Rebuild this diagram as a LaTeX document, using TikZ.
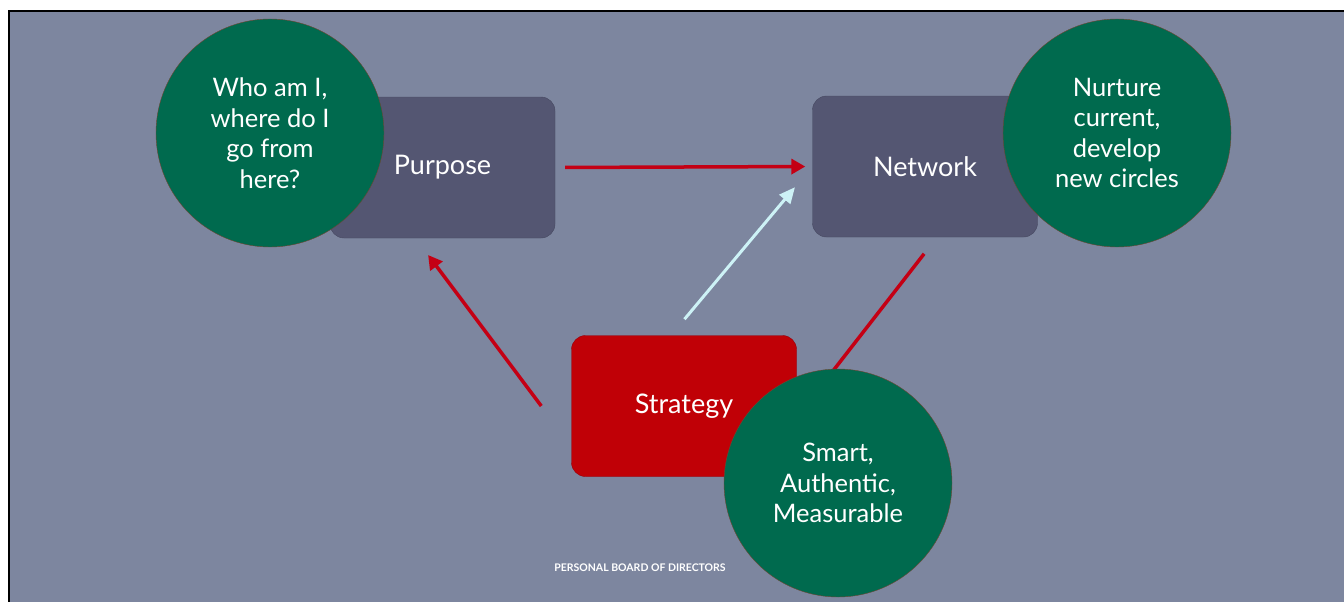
\documentclass[tikz,border=0pt]{standalone}
\usepackage{fontspec}
\setmainfont{Lato}
\usetikzlibrary{arrows.meta, positioning, calc}
\definecolor{slidebg}{RGB}{125,134,159}
\definecolor{boxfill}{RGB}{84,86,114}
\definecolor{boxline}{RGB}{70,72,96}
\definecolor{stratred}{RGB}{192,0,6}
\definecolor{stratline}{RGB}{150,0,10}
\definecolor{bubblegreen}{RGB}{0,106,78}
\definecolor{bubbleline}{RGB}{110,70,50}
\definecolor{arrowred}{RGB}{196,0,20}
\definecolor{arrowcyan}{RGB}{205,242,246}
\tikzstyle{box} = [rectangle, rounded corners=14pt, minimum width=225pt, minimum height=141pt, align=center, draw=boxline, fill=boxfill, text=white, font=\fontsize{27}{30}\selectfont]
\tikzstyle{redbox} = [box, fill=stratred, draw=stratline]
\tikzstyle{bubble} = [circle, minimum size=228pt, inner sep=0pt, align=center, draw=bubbleline, fill=bubblegreen, text=white, font=\fontsize{25.5}{30.5}\selectfont]
\tikzstyle{redarrow} = [line width=3.5pt, draw=arrowred, -{Triangle[length=14pt,width=15pt]}]
\tikzstyle{cyanarrow} = [line width=3pt, draw=arrowcyan, -{Triangle[length=16pt,width=14pt]}]

\begin{document}
\begin{tikzpicture}[x=1pt, y=-1pt]
\useasboundingbox (0,0) rectangle (1344,602);

% Slide background
\fill[slidebg] (9,11) rectangle (1344,602);
\draw[line width=2pt] (9,602) -- (9,11) -- (1344,11);

% Boxes
\node (purpose) [box] at (442.5,167.5) {Purpose};
\node (network) [box] at (925,166.5) {Network};
\node (strategy) [redbox] at (684,406) {Strategy};

% Arrows
\draw [redarrow, shorten <=10pt, shorten >=7pt] (purpose.east) -- (network.west);
\draw [cyanarrow, shorten <=21pt, shorten >=27pt] ([xshift=-13pt]strategy.north) -- (network.west);
\draw [redarrow, shorten >=21pt] ([xshift=-30pt]strategy.west) -- ([xshift=-27pt]purpose.south);
\draw [redarrow, shorten <=21pt] ([xshift=12pt]network.south) -- ([xshift=9pt]strategy.east);

% Bubbles
\node (whoami) [bubble] at (270,133) {Who am I,\\where do I\\go from\\here?};
\node (nurture) [bubble] at (1117,133) {Nurture\\current,\\develop\\new circles};
\node (smart) [bubble] at (838,483) {Smart,\\Authentic,\\Measurable};

% Footer
\node (footer) [text=white, font=\bfseries\fontsize{10.5}{11}\selectfont] at (640,568) {PERSONAL BOARD OF DIRECTORS};

\end{tikzpicture}
\end{document}
